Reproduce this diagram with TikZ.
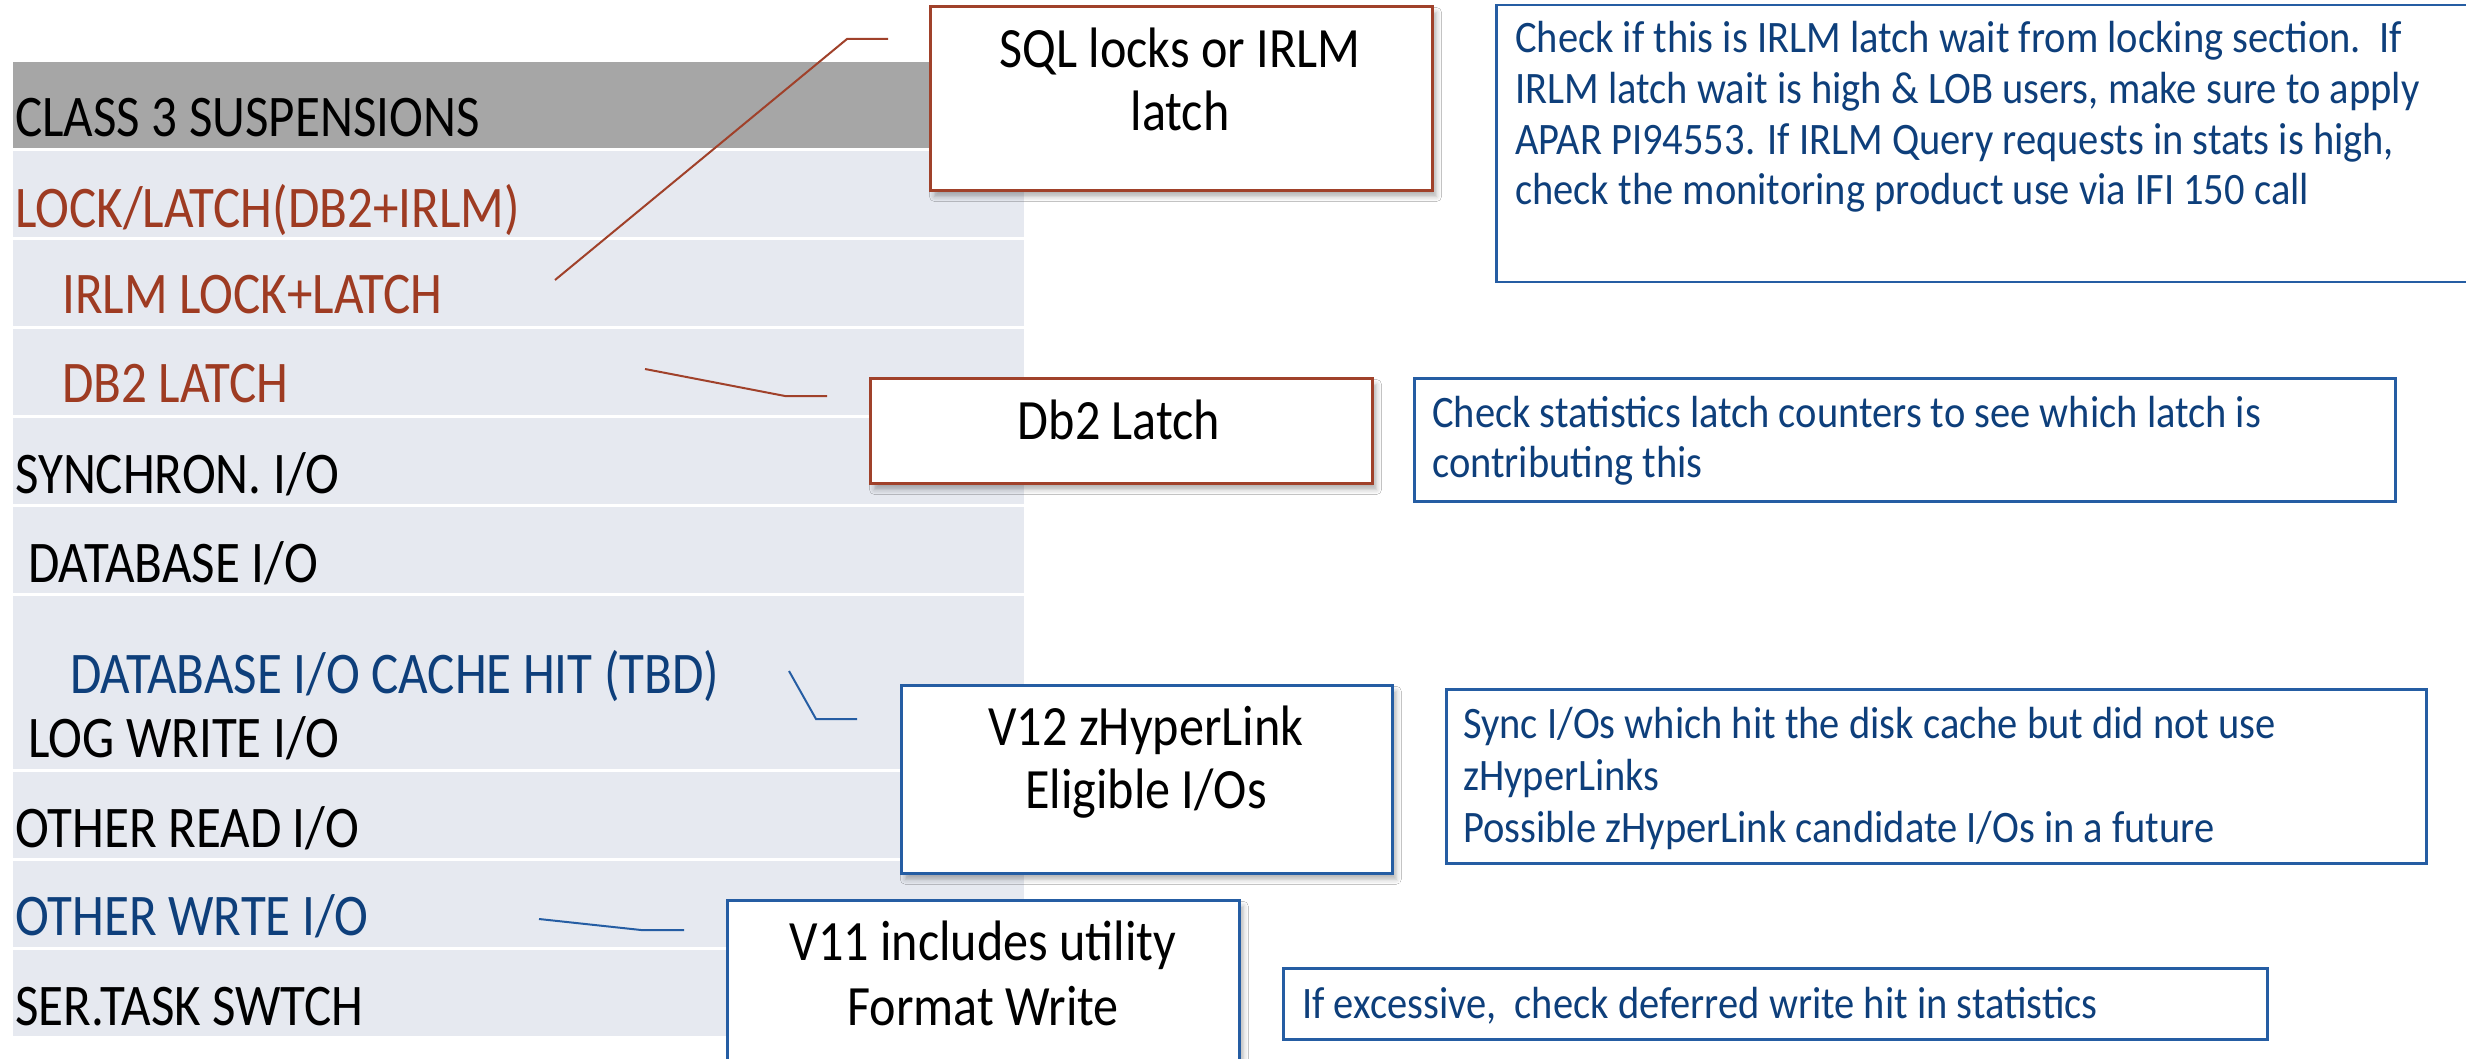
\documentclass[tikz,border=0pt]{standalone}
\usepackage{fontspec}
\setmainfont{Carlito}[FakeStretch=0.9]
\newfontfamily\tabfont{Carlito}[FakeStretch=0.865]
\newfontfamily\boxfont{Carlito}[FakeStretch=0.88]
\usetikzlibrary{shadows.blur}
\definecolor{hdr}{HTML}{A6A6A6}
\definecolor{rowc}{HTML}{E6E9F0}
\definecolor{redt}{HTML}{9E3B22}
\definecolor{bluet}{HTML}{0E3F7B}
\definecolor{redb}{HTML}{A0412A}
\definecolor{blueb}{HTML}{255DA3}
\begin{document}
\begin{tikzpicture}[x=1pt,y=-1pt,
  tlab/.style={anchor=base west, inner sep=0pt, font=\tabfont\fontsize{59}{60}\selectfont},
  blab/.style={anchor=base, inner sep=0pt, font=\boxfont\fontsize{57}{60}\selectfont},
  nlab/.style={anchor=base west, inner sep=0pt, text=bluet, font=\fontsize{45}{50}\selectfont},
  boxbase/.style={rectangle, inner sep=0pt, fill=white, anchor=north west},
  redbox/.style={boxbase, draw=redb, line width=3pt, blur shadow={shadow xshift=4pt, shadow yshift=-6pt, shadow blur radius=5pt, shadow opacity=30}},
  bluebox/.style={boxbase, draw=blueb, line width=2.5pt, blur shadow={shadow xshift=4pt, shadow yshift=-6pt, shadow blur radius=5pt, shadow opacity=30}},
  notebox/.style={boxbase, draw=blueb, line width=2.5pt},
  redline/.style={draw=redb, line width=2pt},
  blueline/.style={draw=blueb, line width=2pt}]
\useasboundingbox (0,0) rectangle (2466,1059);
\fill[white] (0,0) rectangle (2466,1059);
% table rows
\fill[hdr] (13,62) rectangle (1024,148);
\fill[rowc] (13,151) rectangle (1024,237);
\fill[rowc] (13,240) rectangle (1024,326);
\fill[rowc] (13,329) rectangle (1024,415);
\fill[rowc] (13,418) rectangle (1024,504);
\fill[rowc] (13,507) rectangle (1024,593);
\fill[rowc] (13,596) rectangle (1024,769);
\fill[rowc] (13,772) rectangle (1024,858);
\fill[rowc] (13,861) rectangle (1024,947);
\fill[rowc] (13,950) rectangle (1024,1036);
% table texts
\node[tlab] (t0) at (15,137) {CLASS 3 SUSPENSIONS};
\node[tlab, text=redt] (t1) at (15,228) {LOCK/LATCH(DB2+IRLM)};
\node[tlab, text=redt] (t2) at (62,314) {IRLM LOCK+LATCH};
\node[tlab, text=redt] (t3) at (62,402) {DB2 LATCH};
\node[tlab] (t4) at (15,493) {SYNCHRON. I/O};
\node[tlab] (t5) at (28,582) {DATABASE I/O};
\node[tlab, text=bluet] (t6) at (70,693) {DATABASE I/O CACHE HIT (TBD)};
\node[tlab] (t7) at (28,757) {LOG WRITE I/O};
\node[tlab] (t8) at (15,847) {OTHER READ I/O};
\node[tlab, text=bluet] (t9) at (15,935) {OTHER WRTE I/O};
\node[tlab] (t10) at (15,1025) {SER.TASK SWTCH};
% connectors
\coordinate (l1a) at (555,280);
\coordinate (l1b) at (847,39);
\coordinate (l1c) at (888,39);
\draw[redline] (l1a) -- (l1b) -- (l1c);
\coordinate (l2a) at (645,369);
\coordinate (l2b) at (785,396);
\coordinate (l2c) at (827,396);
\draw[redline] (l2a) -- (l2b) -- (l2c);
\coordinate (l3a) at (789,671);
\coordinate (l3b) at (816,719);
\coordinate (l3c) at (857,719);
\draw[blueline] (l3a) -- (l3b) -- (l3c);
\coordinate (l4a) at (539,919);
\coordinate (l4b) at (641,930);
\coordinate (l4c) at (684,930);
\draw[blueline] (l4a) -- (l4b) -- (l4c);
% callout boxes
\node[redbox, minimum width=502pt, minimum height=184pt] (sql) at (929,5) {};
\node[blab] (sqlt1) at (1180,68) {SQL locks or IRLM};
\node[blab] (sqlt2) at (1180,131) {latch};
\node[redbox, minimum width=502pt, minimum height=105pt] (db2) at (869,377) {};
\node[blab] (db2t) at (1119,439) {Db2 Latch};
\node[bluebox, minimum width=491pt, minimum height=188pt] (v12) at (900,684) {};
\node[blab] (v12t1) at (1146,745) {V12 zHyperLink};
\node[blab] (v12t2) at (1146,808) {Eligible I/Os};
\node[bluebox, minimum width=512pt, minimum height=201pt] (v11) at (726,899) {};
\node[blab] (v11t1) at (983,960) {V11 includes utility};
\node[blab] (v11t2) at (983,1025) {Format Write};
% note boxes
\node[notebox, minimum width=1025pt, minimum height=277pt] (chk1) at (1495,4) {};
\node[nlab] (c1a) at (1515,53) {Check if this is IRLM latch wait from locking section.~~If};
\node[nlab] (c1b) at (1515,103.7) {IRLM latch wait is high \& LOB users, make sure to apply};
\node[nlab] (c1c) at (1515,154.4) {APAR PI94553. If IRLM Query requests in stats is high,};
\node[nlab] (c1d) at (1515,205) {check the monitoring product use via IFI 150 call};
\node[notebox, minimum width=981pt, minimum height=123pt] (chk2) at (1413,377) {};
\node[nlab] (c2a) at (1432,427) {Check statistics latch counters to see which latch is};
\node[nlab] (c2b) at (1432,477) {contributing this};
\node[notebox, minimum width=980pt, minimum height=174pt] (sync) at (1445,688) {};
\node[nlab] (s1) at (1463,738) {Sync I/Os which hit the disk cache but did not use};
\node[nlab] (s2) at (1463,790) {zHyperLinks};
\node[nlab] (s3) at (1463,842) {Possible zHyperLink candidate I/Os in a future};
\node[notebox, minimum width=984pt, minimum height=71pt] (exc) at (1282,967) {};
\node[nlab] (e1) at (1302,1018) {If excessive,~~check deferred write hit in statistics};
\end{tikzpicture}
\end{document}
